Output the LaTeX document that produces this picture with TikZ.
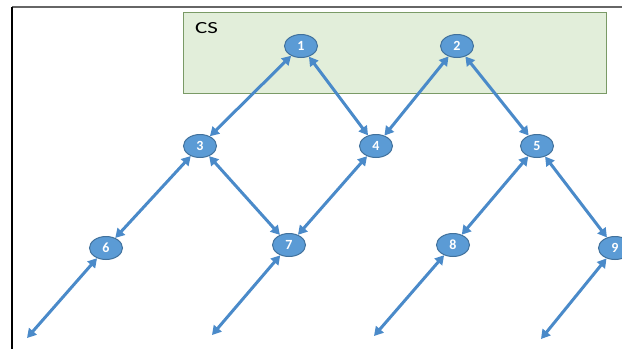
\documentclass[tikz,border=0pt]{standalone}
\usepackage{fontspec}
\usepackage{graphicx}
\setmainfont{Carlito}
\usetikzlibrary{arrows.meta,shapes.geometric}
\definecolor{linkblue}{HTML}{4A8AC9}
\definecolor{nodefill}{HTML}{5B9BD5}
\definecolor{nodeedge}{HTML}{41719C}
\definecolor{csfill}{HTML}{E2EEDA}
\definecolor{csedge}{HTML}{7A9A66}
\tikzset{
  peer/.style={ellipse, draw=nodeedge, line width=1pt, fill=nodefill,
    minimum width=33pt, minimum height=23pt, inner sep=0pt,
    text=white, font=\fontsize{14}{14}\selectfont\bfseries},
  link/.style={draw=linkblue, line width=3pt,
    {Triangle[length=9pt,width=10pt]}-{Triangle[length=9pt,width=10pt]}}
}
\begin{document}
\begin{tikzpicture}[x=1pt,y=-1pt]
  \useasboundingbox (0,0) rectangle (622,349);
  \clip (0,0) rectangle (622,349);
  % frame edges
  \draw[draw=black!60, line width=1.8pt] (12,7) -- (622,7);
  \draw[draw=black, line width=2.6pt] (12,7) -- (12,349);
  % CS region
  \node[draw=csedge, fill=csfill, line width=1pt, minimum width=423pt,
        minimum height=81pt, inner sep=0pt] (cs) at (394.5,53) {};
  \node[font=\fontsize{17}{17}\selectfont, anchor=west, inner sep=0pt]
    (cslabel) at (195,28) {\scalebox{1.35}[1]{CS}};
  % peers
  \node[peer] (n1) at (301,46) {1};
  \node[peer] (n2) at (457,46) {2};
  \node[peer] (n3) at (200,146) {3};
  \node[peer] (n4) at (376,146) {4};
  \node[peer] (n5) at (537,146) {5};
  \node[peer] (n6) at (106,248) {6};
  \node[peer] (n7) at (289,245) {7};
  \node[peer] (n8) at (453,245) {8};
  \node[peer] (n9) at (615,248) {9};
  % open ends
  \coordinate (e6) at (27,338);
  \coordinate (e7) at (212,335);
  \coordinate (e8) at (374,336);
  \coordinate (e9) at (541,339);
  % links
  \draw[link] (n1) -- (n3);
  \draw[link] (n1) -- (n4);
  \draw[link] (n2) -- (n4);
  \draw[link] (n2) -- (n5);
  \draw[link] (n3) -- (n6);
  \draw[link] (n3) -- (n7);
  \draw[link] (n4) -- (n7);
  \draw[link] (n5) -- (n8);
  \draw[link] (n5) -- (n9);
  \draw[link] (n6) -- (e6);
  \draw[link] (n7) -- (e7);
  \draw[link] (n8) -- (e8);
  \draw[link] (n9) -- (e9);
\end{tikzpicture}
\end{document}
